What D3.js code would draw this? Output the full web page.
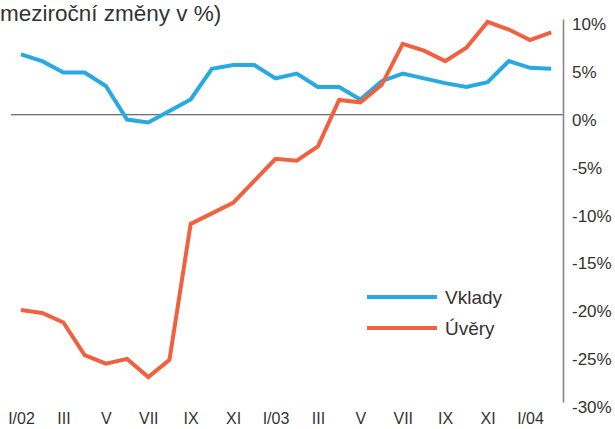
<!DOCTYPE html>
<html lang="cs">
  <head>
    <meta charset="UTF-8" />
    <title>Vklady a úvěry</title>
    <style>
      body {
        margin: 0;
        background: #fff;
      }
      svg text {
        font-family: "Liberation Sans", Arial, sans-serif;
        fill: #333;
      }
      .vklady {
        fill: none;
        stroke: #29a9e1;
        stroke-width: 4px;
        stroke-linejoin: miter;
      }
      .uvery {
        fill: none;
        stroke: #f0613f;
        stroke-width: 4px;
        stroke-linejoin: miter;
      }
      .zeroLine {
        stroke: #444;
        stroke-width: 1.2px;
      }
    </style>
  </head>

  <body>
    <script src="https://cdn.jsdelivr.net/npm/d3@7"></script>
    <script>
    // months I/02 .. II/04
    var months = ["I/02", "II", "III", "IV", "V", "VI", "VII", "VIII", "IX", "X", "XI", "XII",
                  "I/03", "II", "III", "IV", "V", "VI", "VII", "VIII", "IX", "X", "XI", "XII",
                  "I/04", "II"];
    var vklady = [6.3, 5.6, 4.4, 4.4, 3.0, -0.5, -0.8, 0.4, 1.6, 4.8, 5.2, 5.2,
                  3.8, 4.3, 2.9, 2.9, 1.6, 3.5, 4.3, 3.8, 3.3, 2.9, 3.4, 5.6,
                  4.9, 4.8];
    var uvery = [-20.4, -20.7, -21.7, -25.1, -26.0, -25.5, -27.4, -25.6, -11.4, -10.3, -9.2, -6.9,
                 -4.6, -4.8, -3.3, 1.55, 1.3, 3.1, 7.4, 6.7, 5.6, 7.0, 9.7, 8.9,
                 7.8, 8.6];
    var xTickIdx = [0, 2, 4, 6, 8, 10, 12, 14, 16, 18, 20, 22, 24];
    var yTicks = [10, 5, 0, -5, -10, -15, -20, -25, -30];
    var title = "meziroční změny v %)";
    var seriesNames = ["Vklady", "Úvěry"];

    var w = 615, h = 429;

    var svg = d3.select("body").append("svg")
                .attr("width", w)
                .attr("height", h);

    var xScale = d3.scaleLinear()
                   .domain([0, 24])
                   .range([21, 530]);
    var yScale = d3.scaleLinear()
                   .domain([-30, 10])
                   .range([402, 19]);

    // title
    svg.append("text")
       .attr("x", 0)
       .attr("y", 20.5)
       .style("font-size", "22.5px")
       .text(title);

    // zero line
    svg.append("line")
       .attr("class", "zeroLine")
       .attr("x1", 11)
       .attr("x2", 563)
       .attr("y1", yScale(0))
       .attr("y2", yScale(0));

    // y axis on the right
    var yAxis = d3.axisRight(yScale)
                  .tickValues(yTicks)
                  .tickSize(0)
                  .tickSizeOuter(0)
                  .tickPadding(9)
                  .tickFormat(function(d) { return d + "%"; });
    var gy = svg.append("g")
       .attr("transform", "translate(563,0)")
       .call(yAxis);
    gy.select(".domain")
      .attr("stroke", "#888")
      .attr("stroke-width", 1.6);
    gy.selectAll("text")
      .attr("dy", "0.62em")
      .style("font-size", "17px")
      .attr("fill", "#333");

    // x axis labels
    var xAxis = d3.axisBottom(xScale)
                  .tickValues(xTickIdx)
                  .tickSize(0)
                  .tickPadding(0)
                  .tickFormat(function(d) { return months[d]; });
    var gx = svg.append("g")
       .attr("transform", "translate(0,413)")
       .call(xAxis);
    gx.select(".domain").remove();
    gx.selectAll("text")
      .style("font-size", "16px")
      .attr("fill", "#333");

    var line = d3.line()
                 .x(function(d, i) { return xScale(i); })
                 .y(function(d) { return yScale(d); });

    svg.append("path")
       .datum(vklady)
       .attr("class", "vklady")
       .attr("d", line);
    svg.append("path")
       .datum(uvery)
       .attr("class", "uvery")
       .attr("d", line);

    // legend
    var legend = svg.append("g");
    var legendClass = ["vklady", "uvery"];
    seriesNames.forEach(function(name, i) {
      var y = 297 + i * 31;
      legend.append("line")
            .attr("class", legendClass[i])
            .attr("x1", 367)
            .attr("x2", 437)
            .attr("y1", y)
            .attr("y2", y);
      legend.append("text")
            .attr("x", 445)
            .attr("y", y)
            .attr("dy", "0.35em")
            .style("font-size", "19px")
            .text(name);
    });
    </script>
  </body>
</html>
